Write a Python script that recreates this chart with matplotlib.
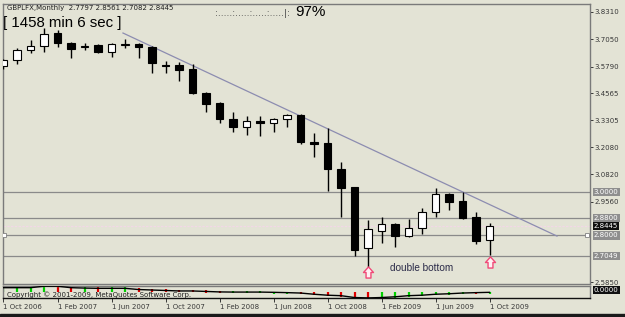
import numpy as np
import matplotlib
matplotlib.use("Agg")
import matplotlib.pyplot as plt
from matplotlib.patches import Rectangle
from matplotlib.path import Path

# ---------------- data ----------------
months = ["Oct 2006", "Nov 2006", "Dec 2006", "Jan 2007", "Feb 2007", "Mar 2007", "Apr 2007",
          "May 2007", "Jun 2007", "Jul 2007", "Aug 2007", "Sep 2007", "Oct 2007", "Nov 2007",
          "Dec 2007", "Jan 2008", "Feb 2008", "Mar 2008", "Apr 2008", "May 2008", "Jun 2008",
          "Jul 2008", "Aug 2008", "Sep 2008", "Oct 2008", "Nov 2008", "Dec 2008", "Jan 2009",
          "Feb 2009", "Mar 2009", "Apr 2009", "May 2009", "Jun 2009", "Jul 2009", "Aug 2009",
          "Sep 2009", "Oct 2009"]
opens = [3.582, 3.610, 3.656, 3.674, 3.733, 3.688, 3.669, 3.679, 3.646, 3.679, 3.683, 3.669,
         3.586, 3.586, 3.568, 3.457, 3.411, 3.337, 3.300, 3.325, 3.319, 3.337, 3.356, 3.228,
         3.226, 3.107, 3.023, 2.742, 2.820, 2.853, 2.797, 2.834, 2.908, 2.991, 2.959, 2.885,
         2.7797]
highs = [3.615, 3.665, 3.702, 3.757, 3.748, 3.693, 3.688, 3.683, 3.688, 3.706, 3.688, 3.674,
         3.605, 3.600, 3.591, 3.462, 3.416, 3.370, 3.351, 3.351, 3.342, 3.360, 3.360, 3.273,
         3.296, 3.139, 3.023, 2.871, 2.885, 2.857, 2.876, 2.927, 3.019, 2.996, 3.000, 2.908,
         2.8561]
lows = [3.570, 3.591, 3.642, 3.646, 3.669, 3.619, 3.656, 3.642, 3.623, 3.665, 3.619, 3.550,
        3.550, 3.513, 3.453, 3.370, 3.319, 3.277, 3.263, 3.259, 3.277, 3.300, 3.222, 3.162,
        3.005, 2.885, 2.705, 2.654, 2.765, 2.747, 2.793, 2.808, 2.885, 2.917, 2.876, 2.760,
        2.7082]
closes = [3.610, 3.656, 3.674, 3.729, 3.688, 3.660, 3.674, 3.646, 3.683, 3.683, 3.669, 3.596,
          3.582, 3.563, 3.457, 3.406, 3.337, 3.300, 3.328, 3.321, 3.337, 3.356, 3.231, 3.224,
          3.107, 3.019, 2.733, 2.830, 2.853, 2.797, 2.834, 2.908, 2.991, 2.954, 2.880, 2.774,
          2.8445]

date_tick_idx = [0, 4, 8, 12, 16, 20, 24, 28, 32, 36]
date_tick_labels = ["1 Oct 2006", "1 Feb 2007", "1 Jun 2007", "1 Oct 2007", "1 Feb 2008",
                    "1 Jun 2008", "1 Oct 2008", "1 Feb 2009", "1 Jun 2009", "1 Oct 2009"]
price_ticks = [3.8310, 3.7050, 3.5790, 3.4565, 3.3305, 3.2080, 3.0820, 2.9560, 2.5850]
level_lines = [3.0000, 2.8800, 2.8000, 2.7049]
bid_price = 2.8445
trend_x = [8.85, 41.0]
trend_y = [3.734, 2.797]
arrow_idx = [27, 36]
arrow_y = [2.631, 2.677]

ind_values = [0.29, 0.29, 0.29, 0.47, 0.47, 0.29, 0.24, 0.21, 0.21, 0.21, 0.06, 0.0, -0.06,
              -0.12, -0.12, -0.18, -0.24, -0.26, -0.26, -0.26, -0.29, -0.33, -0.38, -0.53,
              -0.65, -0.71, -0.94, -0.99, -0.94, -0.85, -0.71, -0.65, -0.53, -0.47, -0.38,
              -0.33, -0.29]
ind_colors = ["g", "g", "g", "g", "r", "r", "g", "r", "g", "g", "r", "r", "r", "r", "r", "r",
              "r", "g", "g", "g", "g", "g", "r", "r", "r", "r", "r", "r", "g", "g", "g", "g",
              "g", "g", "g", "r", "g"]

# ---------------- figure ----------------
bg = "#e3e3d5"
W, H = 625, 317
fig = plt.figure(figsize=(W / 100, H / 100), dpi=100)
fig.patch.set_facecolor(bg)

ax = fig.add_axes([3 / W, 1 - 284 / H, 587 / W, 280 / H])
ax.set_facecolor(bg)
x = np.arange(len(months))
xmin = -0.5 / 13.5
xmax = xmin + 587 / 13.5
ax.set_xlim(xmin, xmax)
ax.set_ylim(3.831 - 272 / 216.7, 3.831 + 8 / 216.7)

o = np.array(opens); c = np.array(closes); hi = np.array(highs); lo = np.array(lows)
ax.vlines(x, lo, hi, color="black", lw=1.0, zorder=3)
bottoms = np.minimum(o, c)
heights = np.maximum(np.abs(c - o), 0.005)
colors = ["white" if cc >= oo else "black" for oo, cc in zip(o, c)]
ax.bar(x, heights, bottom=bottoms, width=0.52, color=colors, edgecolor="black",
       linewidth=0.8, zorder=4)

for lv in level_lines:
    ax.axhline(lv, color="#8a8a8a", lw=0.9, zorder=1)
ax.axhline(bid_price, color="#f2d8e6", lw=0.9, ls=(0, (2, 1)), zorder=1)
ax.plot(trend_x, trend_y, color="#8c8cb0", lw=0.9, zorder=2)
ax.plot([xmin + 0.05, xmax - 0.2], [2.80, 2.80], ls="none", marker="s", ms=3,
        mfc="white", mec="#808080", mew=0.6, zorder=5)

arrow_path = Path([(-0.22, -0.5), (0.22, -0.5), (0.22, 0.0), (0.45, 0.0), (0.0, 0.5),
                   (-0.45, 0.0), (-0.22, 0.0), (-0.22, -0.5)],
                  [Path.MOVETO] + [Path.LINETO] * 6 + [Path.CLOSEPOLY])
ax.plot(arrow_idx, arrow_y, ls="none", marker=arrow_path, ms=8, mfc="#fff0f4",
        mec="#f04a78", mew=1.0, zorder=6)

ax.text(31.0, 2.6475, "double bottom", fontsize=7.2, family="Liberation Sans",
        color="#2a2a48", ha="center", va="center")

ax.yaxis.tick_right()
ax.set_yticks(price_ticks)
ax.set_yticklabels([f"{v:.4f}" for v in price_ticks])
ax.tick_params(axis="y", labelsize=5, colors="#383838", length=2.5, width=0.7, pad=1)
ax.set_xticks([])
for s in ax.spines.values():
    s.set_color("#7a7a7a"); s.set_linewidth(1.0)

box_labels = [(3.0000, "3.0000", "#8e8e8e"), (2.8800, "2.8800", "#8e8e8e"),
              (2.8445, "2.8445", "#101010"), (2.8000, "2.8000", "#8e8e8e"),
              (2.7049, "2.7049", "#8e8e8e")]
for v, t, fc in box_labels:
    ax.text(1.0065, v, t, transform=ax.get_yaxis_transform(), fontsize=5, color="white",
            ha="left", va="center",
            bbox=dict(boxstyle="square,pad=0.18", fc=fc, ec="none"), zorder=10, clip_on=False)

# ---------------- indicator window ----------------
ax2 = fig.add_axes([3 / W, 1 - 298 / H, 587 / W, 12 / H])
ax2.set_facecolor(bg)
ax2.set_xlim(xmin, xmax)
ax2.set_ylim(-1.0, 0.5)
iv = np.array(ind_values)
base = -0.26
seg_lo = np.minimum(iv - 0.15, base)
seg_hi = np.where(iv < base, base, iv + 0.15)
ax2.vlines(x, seg_lo, seg_hi, colors=["#e00000" if k == "r" else "#00d000" for k in ind_colors],
           lw=1.6, zorder=2)
ax2.plot(x, iv, color="black", lw=1.0, zorder=3)
ax2.text(0.006, 0.0, "Copyright © 2001-2009, MetaQuotes Software Corp.", transform=ax2.transAxes,
         fontsize=5, color="#202020", ha="left", va="bottom", zorder=4)
ax2.yaxis.tick_right()
ax2.set_yticks([])
ax2.text(1.0065, 0.0, "0.0000", transform=ax2.get_yaxis_transform(), fontsize=5, color="white",
         ha="left", va="center", bbox=dict(boxstyle="square,pad=0.18", fc="#101010", ec="none"),
         zorder=10, clip_on=False)
ax2.set_xticks(date_tick_idx)
ax2.set_xticklabels(date_tick_labels, ha="left")
ax2.tick_params(axis="x", labelsize=5, colors="#383838", length=3, width=0.7, pad=1.5)
for s in ax2.spines.values():
    s.set_color("#7a7a7a"); s.set_linewidth(1.0)
ax2.spines["bottom"].set_color("#101010")

# ---------------- header texts ----------------
fig.text(7 / W, 1 - 8 / H, "GBPLFX,Monthly  2.7797 2.8561 2.7082 2.8445", fontsize=5,
         color="#202020", ha="left", va="center")
fig.text(3 / W, 1 - 23.5 / H, "[ 1458 min 6 sec ]", fontsize=10.8, family="Liberation Sans",
         color="black", ha="left", va="center")
fig.text(215 / W, 1 - 13 / H, ":.....:.....:.....:.....|:", fontsize=6.5, color="#404040",
         ha="left", va="center")
fig.text(295 / W, 1 - 12.5 / H, "97%", fontsize=11, family="Liberation Sans",
         color="black", ha="left", va="center")

fig.add_artist(Rectangle((0, 0), 1, 3 / H, transform=fig.transFigure, color="#1a1a1a"))

fig.savefig("out.png", dpi=100, facecolor=bg)
